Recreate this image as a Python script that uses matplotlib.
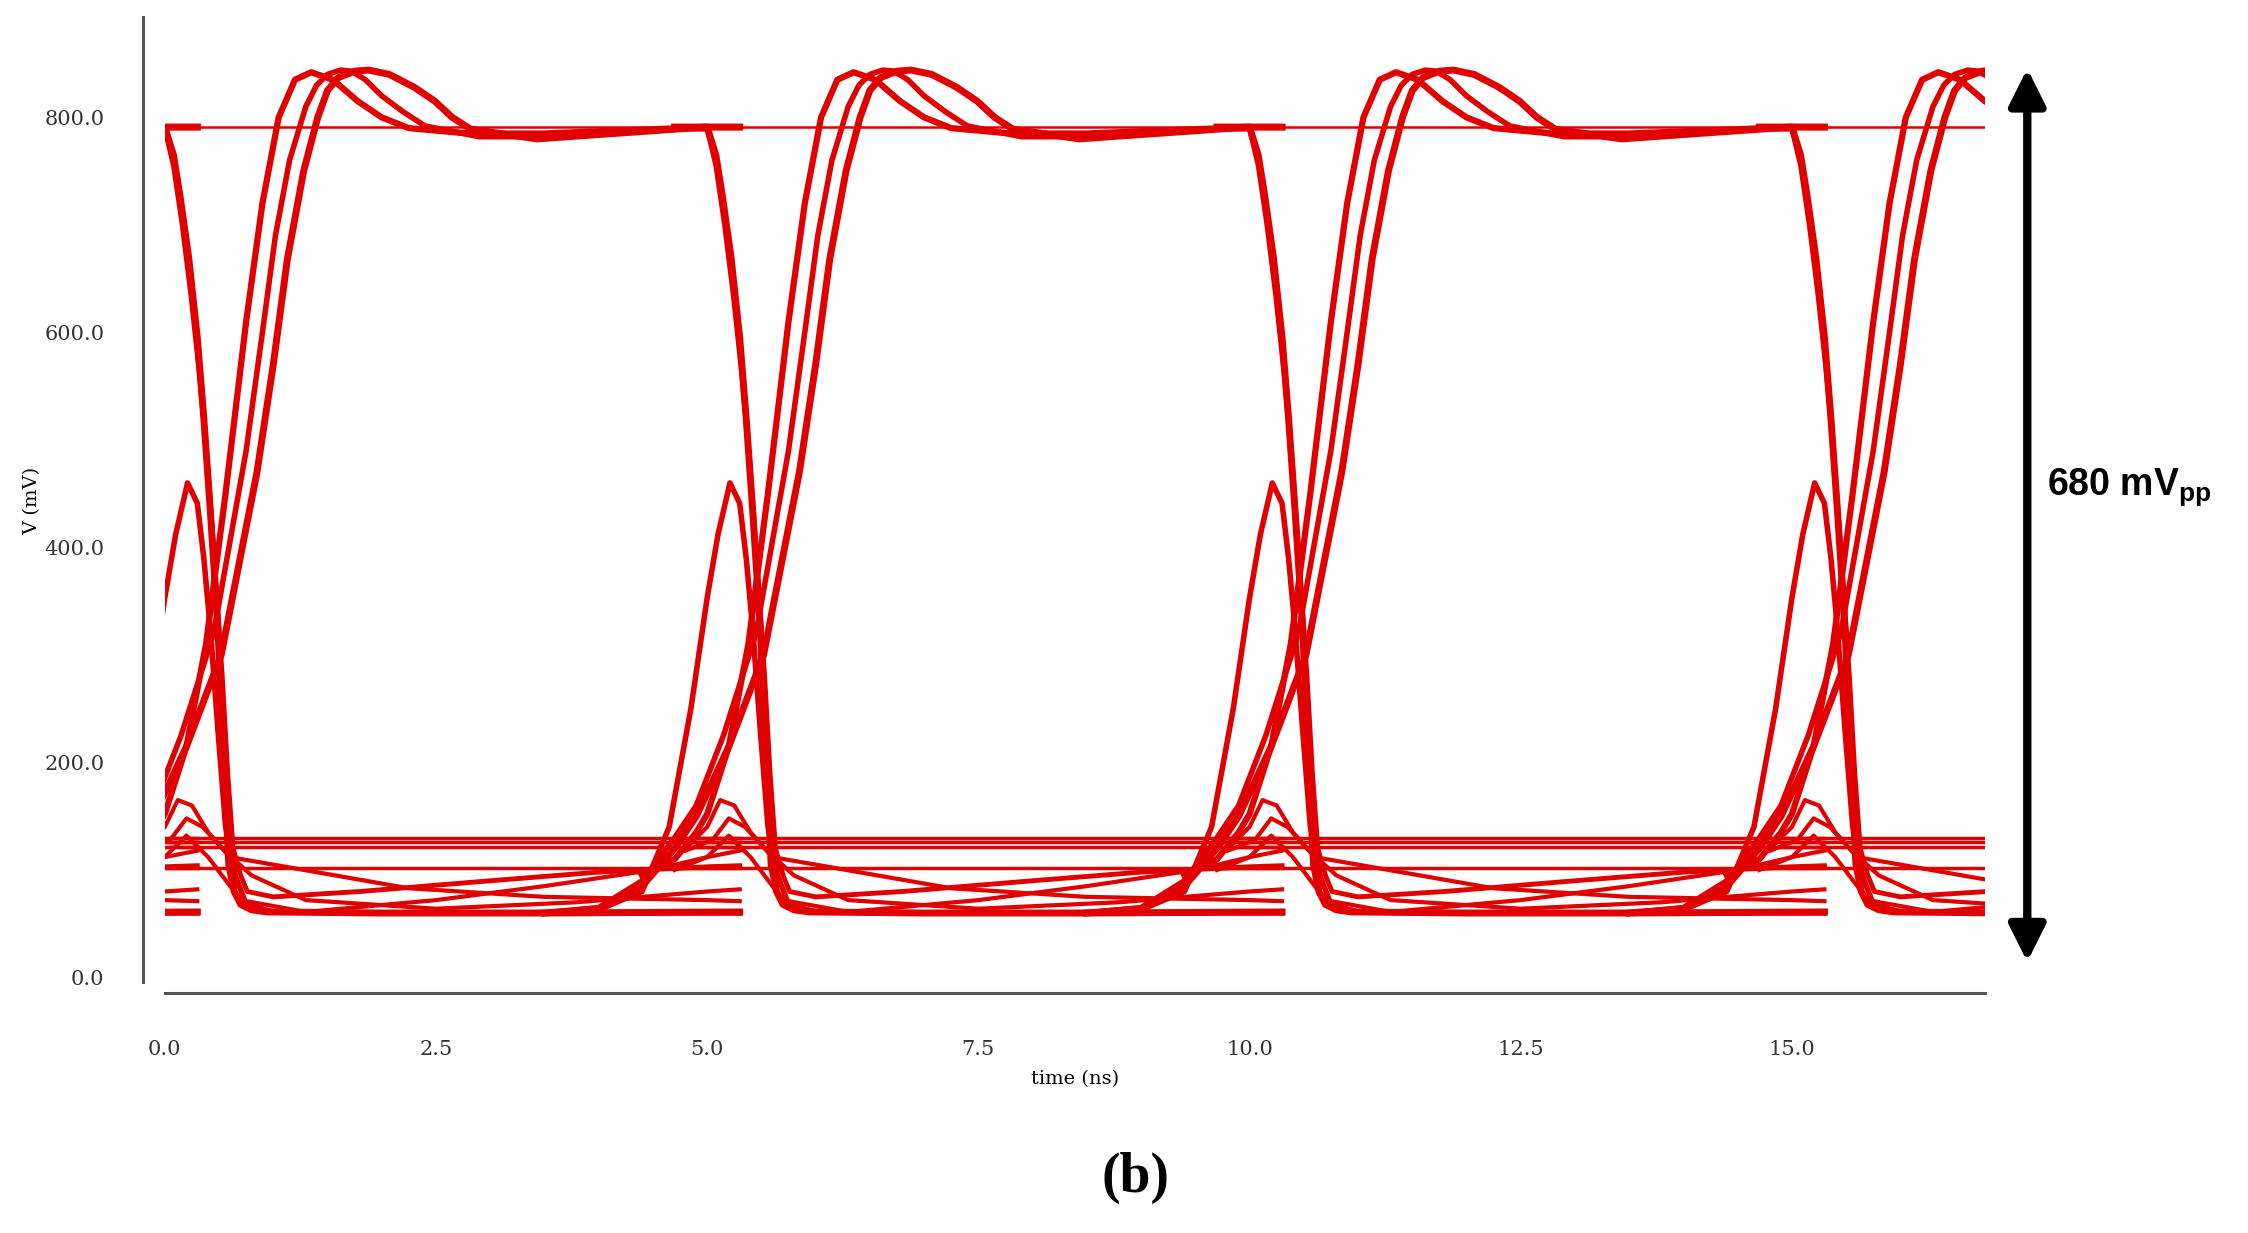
import numpy as np
import matplotlib.pyplot as plt

# eye diagram traces for one 5 ns unit interval
period = 5.0

rise_early_t = [-0.6, -0.3, -0.1, 0.0, 0.2, 0.38, 0.56, 0.75, 0.9, 1.05, 1.2, 1.35, 1.55, 1.78, 2.0, 2.25, 2.8, 3.5, 5.0, 5.3]
rise_early_v = [95, 110, 135, 152, 215, 310, 450, 610, 720, 800, 835, 842, 835, 815, 800, 790, 785, 785, 791, 791]

rise_late_t = [-1.5, -1.0, -0.6, -0.3, -0.1, 0.2, 0.52, 0.85, 1.0, 1.13, 1.28, 1.41, 1.5, 1.6, 1.75, 1.88, 2.07, 2.3, 2.49, 2.65, 2.82, 3.43, 4.98, 5.3]
rise_late_v = [60, 64, 85, 120, 150, 215, 300, 470, 570, 668, 750, 800, 825, 837, 843, 844, 840, 828, 815, 800, 789, 780, 791, 791]

rise_late2_t = [-1.5, -1.0, -0.6, -0.3, -0.1, 0.15, 0.45, 0.75, 0.9, 1.02, 1.15, 1.3, 1.4, 1.5, 1.62, 1.72, 1.85, 2.0, 2.2, 2.4, 2.9, 3.5, 4.98, 5.3]
rise_late2_v = [60, 65, 90, 130, 160, 225, 320, 490, 600, 690, 760, 810, 830, 840, 844, 843, 835, 820, 805, 792, 782, 782, 791, 791]

fall_t = [-0.3, 0.0, 0.08, 0.14, 0.22, 0.3, 0.36, 0.42, 0.49, 0.54, 0.59, 0.64, 0.7, 0.8, 0.94, 2.0, 3.5, 5.3]
fall_v = [791, 791, 765, 727, 670, 595, 520, 434, 324, 210, 105, 80, 68, 63, 61, 60, 60, 61]

fall2_t = [-0.3, 0.0, 0.08, 0.16, 0.24, 0.32, 0.4, 0.45, 0.53, 0.58, 0.63, 0.7, 0.76, 1.0, 1.8, 3.0, 4.0, 5.0, 5.3]
fall2_v = [789, 789, 755, 700, 635, 560, 470, 400, 280, 190, 120, 95, 80, 75, 80, 90, 98, 103, 104]

spike_t = [-1.5, -1.0, -0.6, -0.35, -0.15, 0.0, 0.1, 0.21, 0.3, 0.36, 0.42, 0.49, 0.56, 0.65, 0.75, 1.0, 2.0, 5.3]
spike_v = [60, 63, 80, 140, 250, 353, 412, 460, 441, 390, 324, 230, 141, 95, 68, 61, 60, 60]

bump_t = [-0.2, 0.0, 0.12, 0.25, 0.4, 0.6, 1.0, 2.25, 3.5, 5.0, 5.3]
bump_v = [120, 140, 165, 160, 135, 112, 105, 83, 75, 72, 71]

bump2_t = [-0.2, 0.05, 0.2, 0.35, 0.55, 0.8, 1.3, 2.5, 3.8, 5.0, 5.3]
bump2_v = [118, 128, 148, 140, 118, 95, 72, 64, 70, 80, 82]

low_rise_t = [-0.3, 0.0, 0.2, 0.4, 0.7, 1.3, 2.5, 3.5, 4.5, 5.0, 5.3]
low_rise_v = [100, 112, 132, 112, 72, 61, 72, 85, 100, 112, 118]

flat_t = [-0.3, 5.3]
flat_levels = [130, 126, 121, 102]

high_line_v = 791
t_end = 16.78

red = "#e00000"
traces = [
    (rise_early_t, rise_early_v, 4.5),
    (rise_late_t, rise_late_v, 5.0),
    (rise_late2_t, rise_late2_v, 4.0),
    (fall_t, fall_v, 5.0),
    (fall2_t, fall2_v, 3.5),
    (spike_t, spike_v, 4.0),
    (bump_t, bump_v, 3.0),
    (bump2_t, bump2_v, 3.0),
    (low_rise_t, low_rise_v, 3.0),
]

fig = plt.figure(figsize=(22.48, 12.33), dpi=100)
ax = fig.add_axes([0.0733, 0.195, 0.8097, 0.797])

for k in range(-1, 4):
    off = k * period
    for t, v, lw in traces:
        ax.plot(np.array(t) + off, v, color=red, lw=lw, solid_joinstyle="round")
    for lev in flat_levels:
        ax.plot(np.array(flat_t) + off, [lev, lev], color=red, lw=2.5)
ax.plot([0, t_end], [high_line_v, high_line_v], color=red, lw=1.8)

ax.set_xlim(0, t_end)
ax.set_ylim(-14, 900)

for s in ["top", "right"]:
    ax.spines[s].set_visible(False)
ax.spines["left"].set_position(("outward", 15.5))
ax.spines["left"].set_bounds(-4, 893)
for s in ["left", "bottom"]:
    ax.spines[s].set_color("#555555")
    ax.spines[s].set_linewidth(2.2)

ax.set_xticks([0, 2.5, 5, 7.5, 10, 12.5, 15])
ax.set_xticklabels(["0.0", "2.5", "5.0", "7.5", "10.0", "12.5", "15.0"])
ax.set_yticks([0, 200, 400, 600, 800])
ax.set_yticklabels(["0.0", "200.0", "400.0", "600.0", "800.0"])
ax.tick_params(length=0, labelsize=15, colors="#333333")
ax.tick_params(axis="x", pad=34)
ax.tick_params(axis="y", pad=28)
for lab in ax.get_xticklabels() + ax.get_yticklabels():
    lab.set_family("DejaVu Serif")
ax.set_xlabel("time (ns)", family="DejaVu Serif", fontsize=14, labelpad=8)
ax.set_ylabel("V (mV)", family="DejaVu Serif", fontsize=14, labelpad=2)

ax.annotate("", xy=(17.17, 848), xytext=(17.17, 12),
            arrowprops=dict(arrowstyle="<|-|>", lw=6, mutation_scale=55, color="black"),
            annotation_clip=False)
ax.text(17.35, 456, "680 mV$_{\\mathregular{pp}}$", fontsize=27, fontweight="bold",
        family="Liberation Sans", va="center", ha="left", clip_on=False)

fig.text(0.505, 0.045, "(b)", fontsize=40, fontweight="bold", family="Liberation Serif",
         ha="center", va="center")

fig.savefig("out.png", dpi=100)
